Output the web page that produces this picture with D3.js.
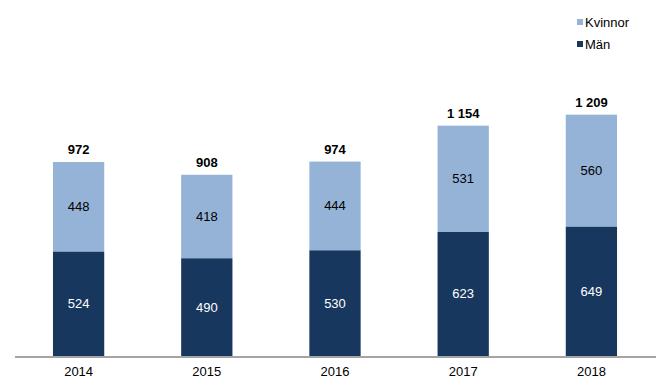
<!DOCTYPE html>
<html>
<head>
<meta charset="utf-8">
<script src="https://cdn.jsdelivr.net/npm/d3@7"></script>
<style>
  body { margin: 0; background: #fff; }
  text { font-family: "Liberation Sans", Arial, sans-serif; }
</style>
</head>
<body>
<div id="chart"></div>
<script>
let width = 670;
let height = 389;
let margin = ({top: 20, right: 15, bottom: 33, left: 14});

let years = ["2014", "2015", "2016", "2017", "2018"];
let man = [524, 490, 530, 623, 649];
let kvinnor = [448, 418, 444, 531, 560];
let totals = ["972", "908", "974", "1 154", "1 209"];

let colorMan = "#17375E";
let colorKv = "#95B3D7";

let data = years.map((y, i) => ({year: y, Män: man[i], Kvinnor: kvinnor[i], total: totals[i]}));
let stack = d3.stack().keys(["Män", "Kvinnor"])(data);

let x = d3.scaleBand()
    .domain(years)
    .range([margin.left + 0.5, width - margin.right + 0.5])
    .paddingInner(0.6)
    .paddingOuter(0.3);

let y = d3.scaleLinear()
    .domain([0, 1400])
    .range([height - margin.bottom, height - margin.bottom - 1400 * 0.1996]);

let svg = d3.select("#chart").append("svg")
    .attr("width", width)
    .attr("height", height);

let colors = {"Män": colorMan, "Kvinnor": colorKv};

let layer = svg.append("g").selectAll("g")
    .data(stack)
    .join("g")
    .attr("fill", d => colors[d.key]);

layer.selectAll("rect")
    .data(d => d)
    .join("rect")
    .attr("x", d => x(d.data.year))
    .attr("y", d => y(d[1]))
    .attr("width", x.bandwidth())
    .attr("height", d => y(d[0]) - y(d[1]));

// segment labels
layer.selectAll("text")
    .data(d => d.map(v => ({v, key: d.key})))
    .join("text")
    .attr("x", d => x(d.v.data.year) + x.bandwidth() / 2)
    .attr("y", d => (y(d.v[0]) + y(d.v[1])) / 2)
    .attr("dy", "0.35em")
    .attr("text-anchor", "middle")
    .attr("font-size", 13)
    .attr("fill", d => d.key === "Män" ? "#fff" : "#000")
    .text(d => d.v.data[d.key]);

// totals
svg.append("g")
    .selectAll("text")
    .data(data)
    .join("text")
    .attr("x", d => x(d.year) + x.bandwidth() / 2)
    .attr("y", d => y(d.Män + d.Kvinnor) - 8)
    .attr("text-anchor", "middle")
    .attr("font-size", 13)
    .attr("font-weight", "bold")
    .attr("fill", "#000")
    .text(d => d.total);

// x axis
let xAxis = g => g
    .attr("transform", `translate(0,${height - margin.bottom + 0.5})`)
    .call(d3.axisBottom(x).tickSize(0).tickPadding(10))
    .call(g => g.select(".domain").attr("stroke", "#868686").attr("stroke-width", 1.5))
    .call(g => g.selectAll("text").attr("font-size", 13).attr("fill", "#000")
        .attr("font-family", "'Liberation Sans', Arial, sans-serif"));

svg.append("g").call(xAxis);

// legend
let legend = svg.append("g")
    .selectAll("g")
    .data([{key: "Kvinnor", c: colorKv}, {key: "Män", c: colorMan}])
    .join("g")
    .attr("transform", (d, i) => `translate(577,${19 + i * 22})`);

legend.append("rect")
    .attr("width", 6)
    .attr("height", 6)
    .attr("fill", d => d.c);

legend.append("text")
    .attr("x", 8)
    .attr("y", 3)
    .attr("dy", "0.35em")
    .attr("font-size", 13)
    .attr("fill", "#000")
    .text(d => d.key);
</script>
</body>
</html>
